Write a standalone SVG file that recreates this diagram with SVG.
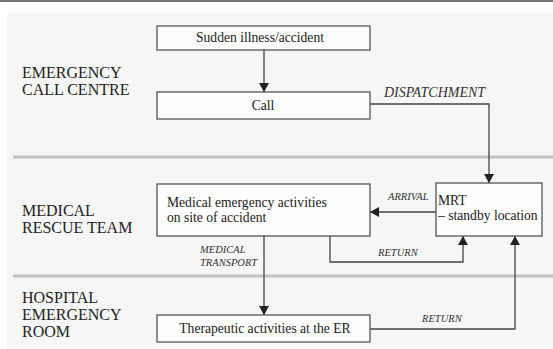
<svg xmlns="http://www.w3.org/2000/svg" width="553" height="349" viewBox="0 0 553 349">
<style>
.lane{font-size:16px;fill:#222}
.box{fill:#fdfdfd;stroke:#555;stroke-width:1.3}
.t{font-size:13.6px;fill:#222}
.lbl{font-style:italic;font-size:10.5px;fill:#333}
.big{font-size:14px}
.con{fill:none;stroke:#444;stroke-width:1.3}
.sep{stroke:#c2c2c2;stroke-width:3}
</style>
<defs>
<marker id="ah" markerUnits="userSpaceOnUse" markerWidth="10" markerHeight="10" refX="9" refY="5" orient="auto">
<path d="M0,0 L9,5 L0,10 z" fill="#222"/>
</marker>
</defs>
<rect x="0" y="0" width="553" height="349" fill="#ffffff"/>
<line x1="0" y1="1" x2="553" y2="1" stroke="#777" stroke-width="2"/>
<rect x="7" y="13" width="546" height="336" fill="#f6f6f6"/>
<line class="sep" x1="13" y1="157" x2="553" y2="157"/>
<line class="sep" x1="13" y1="276" x2="553" y2="276"/>
<g font-family="Liberation Serif, Times New Roman, serif">
<g id="lanes">
<text class="lane" x="22" y="78">EMERGENCY</text>
<text class="lane" x="22" y="95">CALL CENTRE</text>
<text class="lane" x="22" y="216">MEDICAL</text>
<text class="lane" x="22" y="233">RESCUE TEAM</text>
<text class="lane" x="22" y="303">HOSPITAL</text>
<text class="lane" x="22" y="320">EMERGENCY</text>
<text class="lane" x="22" y="337">ROOM</text>
</g>
<g id="connectors">
<path class="con" d="M264,50 V92" marker-end="url(#ah)"/>
<path class="con" d="M370,104 H489 V183" marker-end="url(#ah)"/>
<path class="con" d="M436,212 H370" marker-end="url(#ah)"/>
<path class="con" d="M330,236 V262 H463 V236" marker-end="url(#ah)"/>
<path class="con" d="M264,236 V315" marker-end="url(#ah)"/>
<path class="con" d="M370,329 H515 V236" marker-end="url(#ah)"/>
<text class="lbl big" x="384" y="97">DISPATCHMENT</text>
<text class="lbl" x="388" y="200">ARRIVAL</text>
<text class="lbl" x="378" y="256">RETURN</text>
<text class="lbl" x="200" y="253">MEDICAL</text>
<text class="lbl" x="200" y="266">TRANSPORT</text>
<text class="lbl" x="422" y="322">RETURN</text>
</g>
<g id="sudden">
<rect class="box" x="157" y="26" width="213" height="24"/>
<text class="t" x="260" y="42" text-anchor="middle">Sudden illness/accident</text>
</g>
<g id="call">
<rect class="box" x="157" y="92" width="213" height="27"/>
<text class="t" x="263" y="110" text-anchor="middle">Call</text>
</g>
<g id="onsite">
<rect class="box" x="157" y="184" width="213" height="52"/>
<text class="t" x="167" y="207">Medical emergency activities</text>
<text class="t" x="167" y="222">on site of accident</text>
</g>
<g id="mrt">
<rect class="box" x="436" y="183" width="106" height="53"/>
<text class="t" x="438" y="205">MRT</text>
<text class="t" x="438" y="220">– standby location</text>
</g>
<g id="er">
<rect class="box" x="157" y="315" width="213" height="27"/>
<text class="t" x="265" y="333" text-anchor="middle">Therapeutic activities at the ER</text>
</g>
</g>
</svg>
